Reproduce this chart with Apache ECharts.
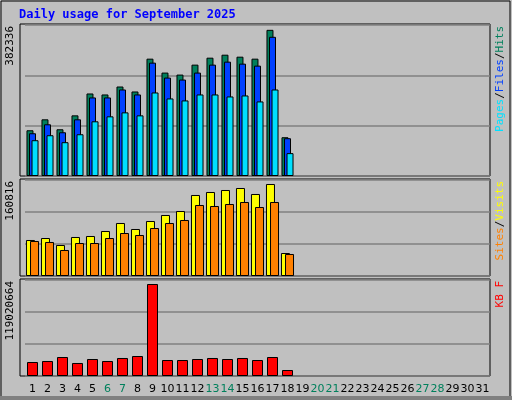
<!DOCTYPE html><html><head><meta charset="utf-8">
<script src="https://cdn.jsdelivr.net/npm/echarts@6/dist/echarts.min.js"></script>
<style>html,body{margin:0;padding:0;background:#c0c0c0}#c{width:512px;height:400px}</style></head><body><div id="c"></div>
<script>
const days = Array.from({length:31},(_,i)=>String(i+1));
const hits  = [119650,148260,122250,158660,215880,213280,234090,221090,306920,270500,265300,291310,309520,317320,312120,306920,382336,101440];
const files = [111840,135250,114440,148260,205480,205480,226290,213280,296510,257500,252300,270500,291310,299120,293910,288710,364140,98840];
const pages = [93640,106640,88430,109240,143060,156060,166460,158660,218480,202880,197680,213280,213280,208080,210680,195080,226290,59820];
const visits= [62930,66420,54190,68170,69920,78660,92640,82160,96140,106630,113620,141590,146830,150330,153820,143330,160816,40200];
const sites = [61180,59430,45450,57680,57680,66420,75160,71670,83900,92640,97890,124110,122360,125860,129350,120610,129350,38460];
const kbytes= [18110000,19410000,24580000,16820000,21990000,19410000,23290000,25870000,119020664,20700000,20700000,21990000,23290000,21990000,23290000,20700000,24580000,7760000];
const weekend = ['6','7','13','14','20','21','27','28'];
const ch = echarts.init(document.getElementById('c'));
const tops=[25,180,280], hs=[151,96,96];
const maxes=[395000,167800,124200000];
const grids = tops.map((t,i)=>({left:25,right:22,top:t,height:hs[i]}));
function yAx(i){return {type:'value',gridIndex:i,min:0,max:maxes[i],interval:maxes[i]/3,axisLabel:{show:false},axisLine:{show:false},axisTick:{show:false},splitLine:{lineStyle:{color:'#808080',width:1.5}}};}
function xAx(i){return {type:'category',gridIndex:i,data:days,axisTick:{show:false},axisLine:{show:false},
 axisLabel:{show:i===2,margin:8,fontFamily:'DejaVu Sans',fontSize:11,interval:0,color:(v)=>weekend.includes(v)?'#00805c':'#000'}};}
function bar(name,data,col,gi,w,gap){return {name,type:'bar',xAxisIndex:gi,yAxisIndex:gi,data,barWidth:w,barGap:gap,animation:false,
 itemStyle:{color:col,borderColor:'#000',borderWidth:1}};}
const panelRects = tops.map((t,i)=>({type:'rect',shape:{x:20,y:t-1,width:470,height:hs[i]+1},style:{fill:'#c0c0c0',stroke:'#000',lineWidth:1},z:-1}));
const vt=(x,y,rich,text)=>({type:'text',x,y,rotation:Math.PI/2,style:{text,rich,font:'11px DejaVu Sans Mono',fill:'#000',align:'right',verticalAlign:'middle'}});
ch.setOption({
 backgroundColor:'#c0c0c0',
 grid:grids, xAxis:[0,1,2].map(xAx), yAxis:[0,1,2].map(yAx),
 series:[
  bar('Hits',hits,'#00805c',0,7,'-64%'),bar('Files',files,'#0040ff',0,7,'-64%'),bar('Pages',pages,'#00e0ff',0,7,'-64%'),
  bar('Visits',visits,'#ffff00',1,9,'-55%'),bar('Sites',sites,'#ff8000',1,9,'-55%'),
  bar('KB',kbytes,'#ff0000',2,11,'0%')
 ],
 graphic:[
  {type:'rect',shape:{x:1,y:1,width:509,height:397},style:{fill:'none',stroke:'#000',lineWidth:1},z:-3},
  {type:'rect',shape:{x:0,y:396,width:512,height:4},style:{fill:'#808080'},z:-2},
  ...panelRects,
  {type:'text',x:19,y:9,style:{text:'Daily usage for September 2025',font:'bold 12px DejaVu Sans Mono',fill:'#0000ff'}},
  {type:'text',x:10,y:26,rotation:Math.PI/2,style:{text:'382336',font:'11px DejaVu Sans Mono',fill:'#000',align:'right',verticalAlign:'middle'}},
  {type:'text',x:10,y:181,rotation:Math.PI/2,style:{text:'160816',font:'11px DejaVu Sans Mono',fill:'#000',align:'right',verticalAlign:'middle'}},
  {type:'text',x:10,y:281,rotation:Math.PI/2,style:{text:'119020664',font:'11px DejaVu Sans Mono',fill:'#000',align:'right',verticalAlign:'middle'}},
  vt(500,26,{p:{fill:'#00e0ff'},f:{fill:'#0040ff'},h:{fill:'#00805c'}},'{p|Pages}/{f|Files}/{h|Hits}'),
  vt(500,181,{s:{fill:'#ff8000'},v:{fill:'#ffff00'}},'{s|Sites}/{v|Visits}'),
  vt(500,281,{k:{fill:'#ff0000'}},'{k|KB F}')
 ]
});
</script></body></html>
